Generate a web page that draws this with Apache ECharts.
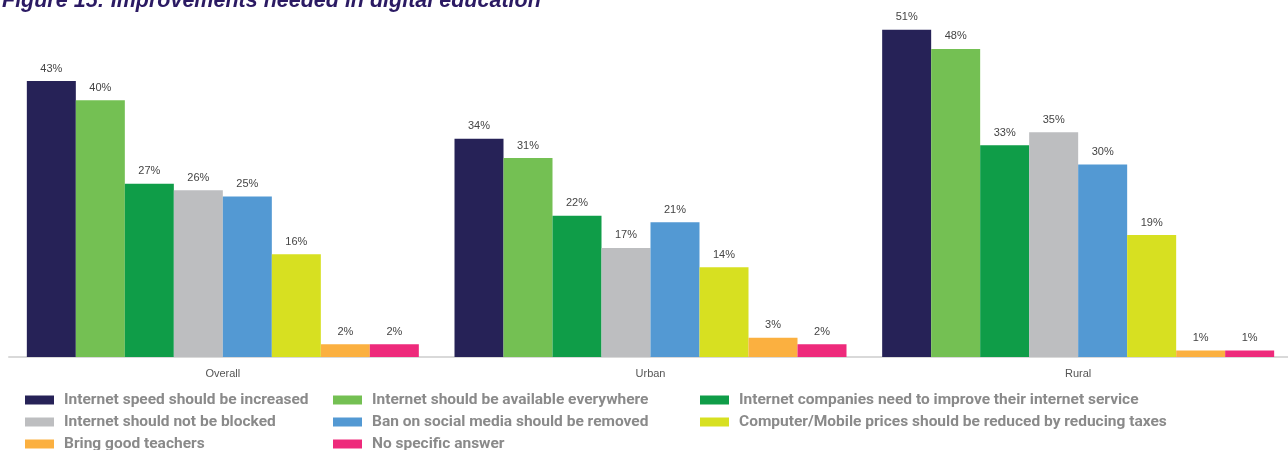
<!DOCTYPE html>
<html>
<head>
<meta charset="utf-8">
<script src="https://cdn.jsdelivr.net/npm/echarts@6/dist/echarts.min.js"></script>
<style>
  html, body { margin: 0; padding: 0; background: #fff; overflow: hidden; }
  #chart { width: 1300px; height: 450px; }
</style>
</head>
<body>
<div id="chart"></div>
<script>
// Groups along the x axis
const categories = ['Overall', 'Urban', 'Rural'];

// Responses, in percent, for each group (Overall, Urban, Rural)
const speedIncreased      = [43, 34, 51];
const availableEverywhere = [40, 31, 48];
const companiesImprove    = [27, 22, 33];
const notBlocked          = [26, 17, 35];
const socialMediaBan      = [25, 21, 30];
const pricesReduced       = [16, 14, 19];
const goodTeachers        = [2, 3, 1];
const noAnswer            = [2, 2, 1];

const seriesNames = [
  'Internet speed should be increased',
  'Internet should be available everywhere',
  'Internet companies need to improve their internet service',
  'Internet should not be blocked',
  'Ban on social media should be removed',
  'Computer/Mobile prices should be reduced by reducing taxes',
  'Bring good teachers',
  'No specific answer'
];
const seriesValues = [
  speedIncreased, availableEverywhere, companiesImprove, notBlocked,
  socialMediaBan, pricesReduced, goodTeachers, noAnswer
];
const colors = ['#262257', '#74c053', '#0f9d48', '#bdbec0', '#5399d3', '#d7e021', '#fbb040', '#ee2a7b'];

// Legend laid out as three vertical columns
const legendText = {
  color: '#8a8a8a', fontSize: 15.5, fontWeight: 'bold', fontFamily: 'Roboto',
  lineHeight: 18, padding: [0, 0, 0, 5]
};
const legendBase = {
  orient: 'vertical', top: 391, height: 100, padding: 0, icon: 'rect',
  itemWidth: 29, itemHeight: 9, itemGap: 4, textStyle: legendText, selectedMode: false
};

const chart = echarts.init(document.getElementById('chart'), null, { renderer: 'canvas' });
chart.setOption({
  animation: false,
  color: colors,
  title: {
    text: 'Figure 15: Improvements needed in digital education',
    left: 2, top: -10, padding: 0,
    textStyle: { color: '#2b1a63', fontSize: 21.5, fontWeight: 'bold', fontStyle: 'italic', fontFamily: 'Liberation Sans' }
  },
  legend: [
    Object.assign({ left: 25, data: [seriesNames[0], seriesNames[3], seriesNames[6]] }, legendBase),
    Object.assign({ left: 333, data: [seriesNames[1], seriesNames[4], seriesNames[7]] }, legendBase),
    Object.assign({ left: 700, data: [seriesNames[2], seriesNames[5]] }, legendBase)
  ],
  grid: { left: 9, width: 1283, top: 4, height: 353 },
  xAxis: {
    type: 'category',
    data: categories,
    axisLine: { lineStyle: { color: '#d9d9d9', width: 2 } },
    axisTick: { show: false },
    axisLabel: { color: '#555', fontSize: 11, fontFamily: 'Liberation Sans', margin: 11 }
  },
  yAxis: { type: 'value', min: 0, max: 55, show: false, splitLine: { show: false } },
  series: seriesValues.map((vals, i) => ({
    name: seriesNames[i],
    type: 'bar',
    data: vals,
    barWidth: 49,
    barGap: '0%',
    label: {
      show: true, position: 'top', distance: 7,
      formatter: p => p.value + '%',
      color: '#444', fontSize: 11, fontFamily: 'Liberation Sans'
    }
  }))
});
</script>
</body>
</html>
